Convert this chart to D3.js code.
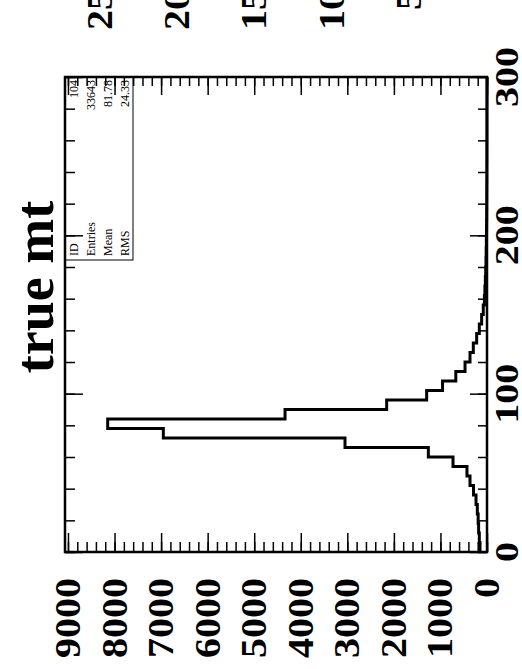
<!DOCTYPE html>
<html>
<head>
<meta charset="utf-8">
<script src="https://cdn.jsdelivr.net/npm/d3@7"></script>
<style>
  body { margin: 0; background: #fff; }
  svg { display: block; }
  text { font-family: "Liberation Serif", "Times New Roman", serif; fill: #000; }
</style>
</head>
<body>
<div id="chart"></div>
<script>
// chart data (histogram of true mt, 50 bins of width 6 from 0 to 300)
var binLow = d3.range(0, 300, 6);
var binWidth = 6;
var counts = [150, 165, 180, 190, 208, 236, 290, 365, 430, 730,
  1260, 3050, 6952, 8147, 4338, 2155, 1296, 955, 670, 472,
  365, 294, 222, 165, 115, 80, 55, 45, 35, 28,
  22, 18, 14, 11, 9, 7, 6, 5, 4, 3,
  3, 2, 2, 1, 1, 1, 1, 0, 0, 0];

var countTicks = [0, 1000, 2000, 3000, 4000, 5000, 6000, 7000, 8000, 9000];
var massTicks = [0, 100, 200, 300];
var upperTicks = [500, 1000, 1500, 2000, 2500];   // labels of the panel cut off above

var statLabels = ["ID", "Entries", "Mean", "RMS"];
var statValues = ["104", "33643", "81.78", "24.33"];
var title = "true mt";

var svgWidth = 522;
var svgHeight = 669;

// plot frame (the page is turned a quarter: mass runs upward, counts run leftward)
var frame = { left: 65, right: 487, top: 77, bottom: 552 };

var svg = d3.select("#chart")
  .append("svg")
  .attr("width", svgWidth)
  .attr("height", svgHeight);

var massScale = d3.scaleLinear()
  .domain([0, 300])
  .range([frame.bottom, frame.top]);

var countScale = d3.scaleLinear()
  .domain([0, 9064])
  .range([frame.right, frame.left]);

var upperScale = d3.scaleLinear()
  .domain([0, 2500])
  .range([486, 100]);

// ticks: mass axis on both long edges, counts on top and bottom edges
function tickGroup(axis, tx, ty) {
  var g = svg.append("g")
    .attr("transform", `translate(${tx}, ${ty})`)
    .call(axis);
  g.select(".domain").remove();
  g.selectAll("line").attr("stroke", "#000").attr("stroke-width", 1.5);
  g.selectAll("text").remove();
  return g;
}

var massMinor = d3.range(0, 301, 20);
var countMinor = d3.range(0, 9001, 200);

tickGroup(d3.axisRight(massScale).tickValues(massMinor).tickSize(10), frame.left, 0);
tickGroup(d3.axisRight(massScale).tickValues(massTicks).tickSize(18), frame.left, 0);
tickGroup(d3.axisLeft(massScale).tickValues(massMinor).tickSize(9), frame.right, 0);
tickGroup(d3.axisLeft(massScale).tickValues(massTicks).tickSize(17), frame.right, 0);
tickGroup(d3.axisTop(countScale).tickValues(countMinor).tickSize(10), 0, frame.bottom);
tickGroup(d3.axisTop(countScale).tickValues(countTicks).tickSize(19), 0, frame.bottom);
tickGroup(d3.axisBottom(countScale).tickValues(countMinor).tickSize(9), 0, frame.top);
tickGroup(d3.axisBottom(countScale).tickValues(countTicks).tickSize(18), 0, frame.top);

// histogram outline
var pts = [];
counts.forEach(function(c, i) {
  pts.push([countScale(c), massScale(binLow[i])]);
  pts.push([countScale(c), massScale(binLow[i] + binWidth)]);
});

svg.append("path")
  .attr("d", d3.line()(pts))
  .attr("fill", "none")
  .attr("stroke", "#000")
  .attr("stroke-width", 3)
  .attr("stroke-linejoin", "miter");

// frame
svg.append("rect")
  .attr("x", frame.left)
  .attr("y", frame.top)
  .attr("width", frame.right - frame.left)
  .attr("height", frame.bottom - frame.top)
  .attr("fill", "none")
  .attr("stroke", "#000")
  .attr("stroke-width", 2.5);

// stats box
var statBox = { left: frame.left, right: 133, top: frame.top, bottom: 260 };
svg.append("rect")
  .attr("x", statBox.left)
  .attr("y", statBox.top)
  .attr("width", statBox.right - statBox.left)
  .attr("height", statBox.bottom - statBox.top)
  .attr("fill", "none")
  .attr("stroke", "#000")
  .attr("stroke-width", 1);

var rowH = (statBox.right - statBox.left) / statLabels.length;

svg.selectAll(".stat-label")
  .data(statLabels)
  .enter()
  .append("text")
  .attr("class", "stat-label")
  .attr("transform", (d, i) => `translate(${statBox.left + rowH * (i + 0.5) + 4}, ${statBox.bottom - 4}) rotate(-90)`)
  .attr("font-size", 12)
  .text(d => d);

svg.selectAll(".stat-value")
  .data(statValues)
  .enter()
  .append("text")
  .attr("class", "stat-value")
  .attr("transform", (d, i) => `translate(${statBox.left + rowH * (i + 0.5) + 4}, ${statBox.top + 3}) rotate(-90)`)
  .attr("text-anchor", "end")
  .attr("font-size", 12)
  .text(d => d);

// count labels below the frame
svg.selectAll(".count-label")
  .data(countTicks)
  .enter()
  .append("text")
  .attr("class", "count-label")
  .attr("transform", d => `translate(${countScale(d) + 12}, 578) scale(0.87, 1) rotate(-90)`)
  .attr("text-anchor", "end")
  .attr("font-size", 40)
  .attr("font-weight", "bold")
  .text(d => d);

// mass labels right of the frame
svg.selectAll(".mass-label")
  .data(massTicks)
  .enter()
  .append("text")
  .attr("class", "mass-label")
  .attr("transform", d => `translate(518, ${massScale(d)}) scale(0.85, 1) rotate(-90)`)
  .attr("text-anchor", "middle")
  .attr("font-size", 40)
  .attr("font-weight", "bold")
  .text(d => d);

// cut-off labels of the panel above
svg.selectAll(".upper-label")
  .data(upperTicks)
  .enter()
  .append("text")
  .attr("class", "upper-label")
  .attr("transform", d => `translate(${upperScale(d) + 12}, -50) scale(0.87, 1) rotate(-90)`)
  .attr("text-anchor", "end")
  .attr("font-size", 40)
  .attr("font-weight", "bold")
  .text(d => d);

// title
svg.append("text")
  .attr("transform", "translate(53, 287) rotate(-90)")
  .attr("text-anchor", "middle")
  .attr("font-size", 54)
  .attr("font-weight", "bold")
  .text(title);
</script>
</body>
</html>
